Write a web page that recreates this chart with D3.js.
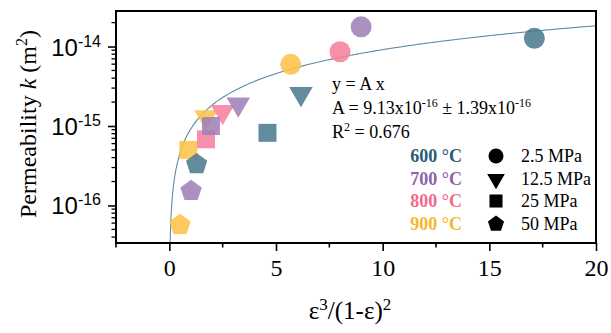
<!DOCTYPE html>
<html>
<head>
<meta charset="utf-8">
<script src="https://cdn.jsdelivr.net/npm/d3@7"></script>
<style>
  html, body { margin: 0; padding: 0; background: #fff; }
  svg { display: block; font-family: "Liberation Serif", "Times New Roman", serif; }
</style>
</head>
<body>
<svg id="chart" width="611" height="333"></svg>
<script>
// Porosity term ε³/(1-ε)² and permeability k (m²) for each sintering temperature,
// ordered by compaction pressure: 2.5, 12.5, 25, 50 MPa
const temperatures = ["600 °C", "700 °C", "800 °C", "900 °C"];
const pressures = ["2.5 MPa", "12.5 MPa", "25 MPa", "50 MPa"];

const eps600 = [17.11, 6.17, 4.60, 1.28];
const k600   = [1.27e-14, 2.55e-15, 8.2e-16, 3.3e-16];
const eps700 = [8.99, 3.23, 1.95, 1.02];
const k700   = [1.77e-14, 1.88e-15, 1.0e-15, 1.52e-16];
const eps800 = [8.00, 2.50, 1.72];
const k800   = [8.6e-15, 1.51e-15, 6.8e-16];
const eps900 = [5.69, 1.72, 0.89, 0.50];
const k900   = [5.97e-15, 1.3e-15, 5.0e-16, 5.7e-17];

// Linear fit k = A·x
const fitA = 9.13e-16;

const xTicksMajor = [0, 5, 10, 15, 20];
const xTicksMinor = [-2.5, 2.5, 7.5, 12.5, 17.5];
const yTicksMajor = [1e-16, 1e-15, 1e-14];
const yTickExponents = ["-16", "-15", "-14"];

const markerColors = ["#4b7b90", "#a07fb8", "#f8809c", "#fec247"];
const labelColors  = ["#2c5b75", "#8c63aa", "#f26a8c", "#fdb52c"];
const fitColor = "#5d8ca6";

const svg = d3.select("#chart");
const m = { left: 116, right: 596, top: 11, bottom: 243 };

const x = d3.scaleLinear().domain([-2.5, 20]).range([m.left, m.right]);
const y = d3.scaleLog().domain([3.37e-17, 2.8e-14]).range([m.bottom, m.top]);

// Pentagon symbol type for d3.symbol
const symbolPentagon = {
  draw(ctx, size) {
    const r = Math.sqrt(size / (2.5 * Math.sin(2 * Math.PI / 5)));
    for (let i = 0; i < 5; i++) {
      const a = -Math.PI / 2 + i * 2 * Math.PI / 5;
      const px = r * Math.cos(a), py = r * Math.sin(a);
      if (i === 0) ctx.moveTo(px, py); else ctx.lineTo(px, py);
    }
    ctx.closePath();
  }
};
const shapeTypes = [d3.symbolCircle, d3.symbolTriangle, d3.symbolSquare, symbolPentagon];
const shapeSizes = [346, 240, 324, 300];
const shapeRotate = [0, 180, 0, 0];
const legendSizes = [177, 135, 170, 170];

svg.append("defs").append("clipPath").attr("id", "plotClip")
  .append("rect").attr("x", m.left).attr("y", m.top)
  .attr("width", m.right - m.left).attr("height", m.bottom - m.top);

// Fit curve
const fitXs = d3.range(0.001, 0.2, 0.001).concat(d3.range(0.2, 20.05, 0.05));
const line = d3.line().x(d => x(d)).y(d => y(fitA * d));
svg.append("path")
  .attr("clip-path", "url(#plotClip)")
  .attr("d", line(fitXs))
  .attr("fill", "none")
  .attr("stroke", fitColor)
  .attr("stroke-width", 1.1);

// Data markers, drawn shape by shape (triangles, squares, pentagons, circles)
const series = [
  { eps: eps600, k: k600 },
  { eps: eps700, k: k700 },
  { eps: eps800, k: k800 },
  { eps: eps900, k: k900 }
];
const points = [];
[1, 2, 3, 0].forEach(si => {
  [3, 2, 1, 0].forEach(ti => {
    const s = series[ti];
    if (si < s.eps.length) points.push({ t: ti, s: si, ex: s.eps[si], kv: s.k[si] });
  });
});
const markers = svg.append("g").attr("clip-path", "url(#plotClip)");
markers.selectAll("path").data(points).join("path")
  .attr("d", d => d3.symbol().type(shapeTypes[d.s]).size(shapeSizes[d.s])())
  .attr("transform", d => `translate(${x(d.ex)},${y(d.kv)}) rotate(${shapeRotate[d.s]})`)
  .attr("fill", d => markerColors[d.t])
  .attr("fill-opacity", 0.87);

// Axes
const xAxis = svg.append("g").attr("transform", `translate(0,${m.bottom})`);
xAxis.call(d3.axisBottom(x).tickValues(xTicksMajor).tickSize(8).tickSizeOuter(0).tickPadding(8));
xAxis.selectAll(".tick text").attr("font-size", 24).attr("fill", "#000")
  .attr("font-family", "Liberation Serif, serif");
xAxis.call(g => g.select(".domain").remove());
xAxis.selectAll(".tick line").attr("stroke", "#000").attr("stroke-width", 1.6);
xAxis.selectAll(".minor").data(xTicksMinor).join("line").attr("class", "minor")
  .attr("x1", d => x(d)).attr("x2", d => x(d)).attr("y1", 0).attr("y2", 4.5)
  .attr("stroke", "#000").attr("stroke-width", 1.6);

const yMinor = [];
for (let e = -17; e <= -14; e++) {
  for (let k = 2; k <= 9; k++) {
    const v = k * Math.pow(10, e);
    if (v >= y.domain()[0] && v <= y.domain()[1]) yMinor.push(v);
  }
}
const yAxis = svg.append("g").attr("transform", `translate(${m.left},0)`);
yAxis.call(d3.axisLeft(y).tickValues(yTicksMajor).tickSize(8).tickSizeOuter(0).tickFormat(""));
yAxis.call(g => g.select(".domain").remove());
yAxis.selectAll(".tick line").attr("stroke", "#000").attr("stroke-width", 1.6);
yAxis.selectAll(".minor").data(yMinor).join("line").attr("class", "minor")
  .attr("x1", -4.5).attr("x2", 0).attr("y1", d => y(d)).attr("y2", d => y(d))
  .attr("stroke", "#000").attr("stroke-width", 1.3);
const yLab = yAxis.selectAll(".ylab").data(yTicksMajor).join("text").attr("class", "ylab")
  .attr("x", -15).attr("y", d => y(d) + 9)
  .attr("text-anchor", "end").attr("font-size", 24).attr("fill", "#000");
yLab.append("tspan").text("10");
yLab.append("tspan").attr("dy", -9).attr("font-size", 16).text((d, i) => yTickExponents[i]);

// Frame
svg.append("rect")
  .attr("x", m.left).attr("y", m.top)
  .attr("width", m.right - m.left).attr("height", m.bottom - m.top)
  .attr("fill", "none").attr("stroke", "#000").attr("stroke-width", 2);

// Axis titles
const xt = svg.append("text").attr("x", 350).attr("y", 319)
  .attr("text-anchor", "middle").attr("font-size", 25).attr("fill", "#000");
xt.append("tspan").text("ε");
xt.append("tspan").attr("dy", -9).attr("font-size", 17).text("3");
xt.append("tspan").attr("dy", 9).text("/(1-ε)");
xt.append("tspan").attr("dy", -9).attr("font-size", 17).text("2");

const yt = svg.append("text")
  .attr("transform", "translate(36,124) rotate(-90)")
  .attr("text-anchor", "middle").attr("font-size", 24).attr("fill", "#000");
yt.append("tspan").text("Permeability ");
yt.append("tspan").attr("font-style", "italic").text("k");
yt.append("tspan").text(" (m");
yt.append("tspan").attr("dy", -9).attr("font-size", 16).text("2");
yt.append("tspan").attr("dy", 9).text(")");

// Fit annotation
const ann = svg.append("g").attr("font-size", 18).attr("fill", "#000");
ann.append("text").attr("x", 332).attr("y", 90).text("y = A x");
const aText = ann.append("text").attr("x", 332).attr("y", 114);
aText.append("tspan").text("A = 9.13x10");
aText.append("tspan").attr("dy", -7).attr("font-size", 12).text("-16");
aText.append("tspan").attr("dy", 7).text(" ± 1.39x10");
aText.append("tspan").attr("dy", -7).attr("font-size", 12).text("-16");
const rText = ann.append("text").attr("x", 332).attr("y", 138);
rText.append("tspan").text("R");
rText.append("tspan").attr("dy", -7).attr("font-size", 12).text("2");
rText.append("tspan").attr("dy", 7).text(" = 0.676");

// Legend: temperature colours and pressure shapes
const rowY = [162, 185, 207, 230];
const leg = svg.append("g");
leg.selectAll(".temp").data(temperatures).join("text").attr("class", "temp")
  .attr("x", 462).attr("y", (d, i) => rowY[i])
  .attr("text-anchor", "end").attr("font-size", 18).attr("font-weight", "bold")
  .attr("fill", (d, i) => labelColors[i]).text(d => d);
leg.selectAll(".sym").data(pressures).join("path").attr("class", "sym")
  .attr("d", (d, i) => d3.symbol().type(shapeTypes[i]).size(legendSizes[i])())
  .attr("transform", (d, i) => `translate(496,${rowY[i] - 6}) rotate(${shapeRotate[i]})`)
  .attr("fill", "#000");
leg.selectAll(".pres").data(pressures).join("text").attr("class", "pres")
  .attr("x", 521).attr("y", (d, i) => rowY[i])
  .attr("font-size", 18).attr("fill", "#000").text(d => d);
</script>
</body>
</html>
